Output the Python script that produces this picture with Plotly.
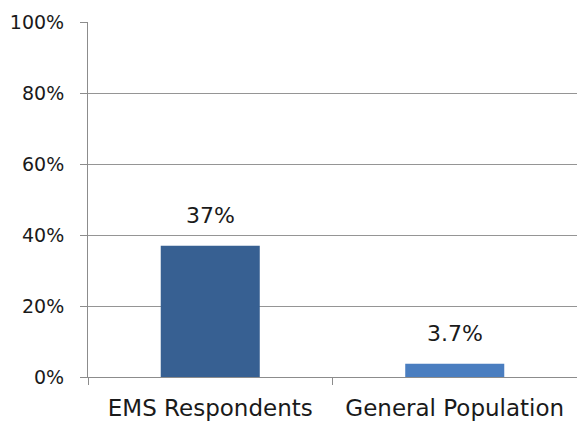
import plotly.graph_objects as go

categories = ["EMS Respondents", "General Population"]
values = [37, 3.7]
value_labels = ["37%", "3.7%"]
bar_colors = ["#376092", "#4A7EC0"]
y_ticks = [0, 20, 40, 60, 80, 100]
y_tick_labels = ["0%", "20%", "40%", "60%", "80%", "100%"]

FONT = "DejaVu Sans"
TXT = "#1a1a1a"

fig = go.Figure()
fig.add_trace(go.Bar(
    x=categories, y=values, marker=dict(color=bar_colors, line=dict(width=0)),
    width=0.405, showlegend=False, hoverinfo="skip",
))
for c, v, t in zip(categories, values, value_labels):
    fig.add_annotation(x=c, y=v, text=t, showarrow=False, yanchor="bottom",
                       yshift=16, font=dict(family=FONT, size=22, color=TXT))

fig.update_layout(
    width=577, height=422,
    margin=dict(l=88, r=0, t=22, b=45),
    paper_bgcolor="white", plot_bgcolor="white",
    font=dict(family=FONT, size=20, color=TXT),
    xaxis=dict(type="category", tickson="boundaries", ticks="outside", ticklen=7,
               tickcolor="#8c8c8c", tickwidth=1, showline=True, linecolor="#8c8c8c",
               linewidth=1, showgrid=False, automargin=False, ticklabelstandoff=10,
               tickfont=dict(family=FONT, size=23, color=TXT)),
    yaxis=dict(range=[0, 100], tickvals=y_ticks, ticktext=y_tick_labels,
               ticks="outside", ticklen=7, tickcolor="#8c8c8c", showline=True,
               linecolor="#8c8c8c", linewidth=1, showgrid=True, gridcolor="#959595",
               gridwidth=1, zeroline=False, automargin=False, ticklabelstandoff=12,
               tickfont=dict(family=FONT, size=19, color=TXT)),
)
fig.write_html("out.html", config={"displayModeBar": False},
               post_script="document.body.style.margin='0';document.body.style.overflow='hidden';")
